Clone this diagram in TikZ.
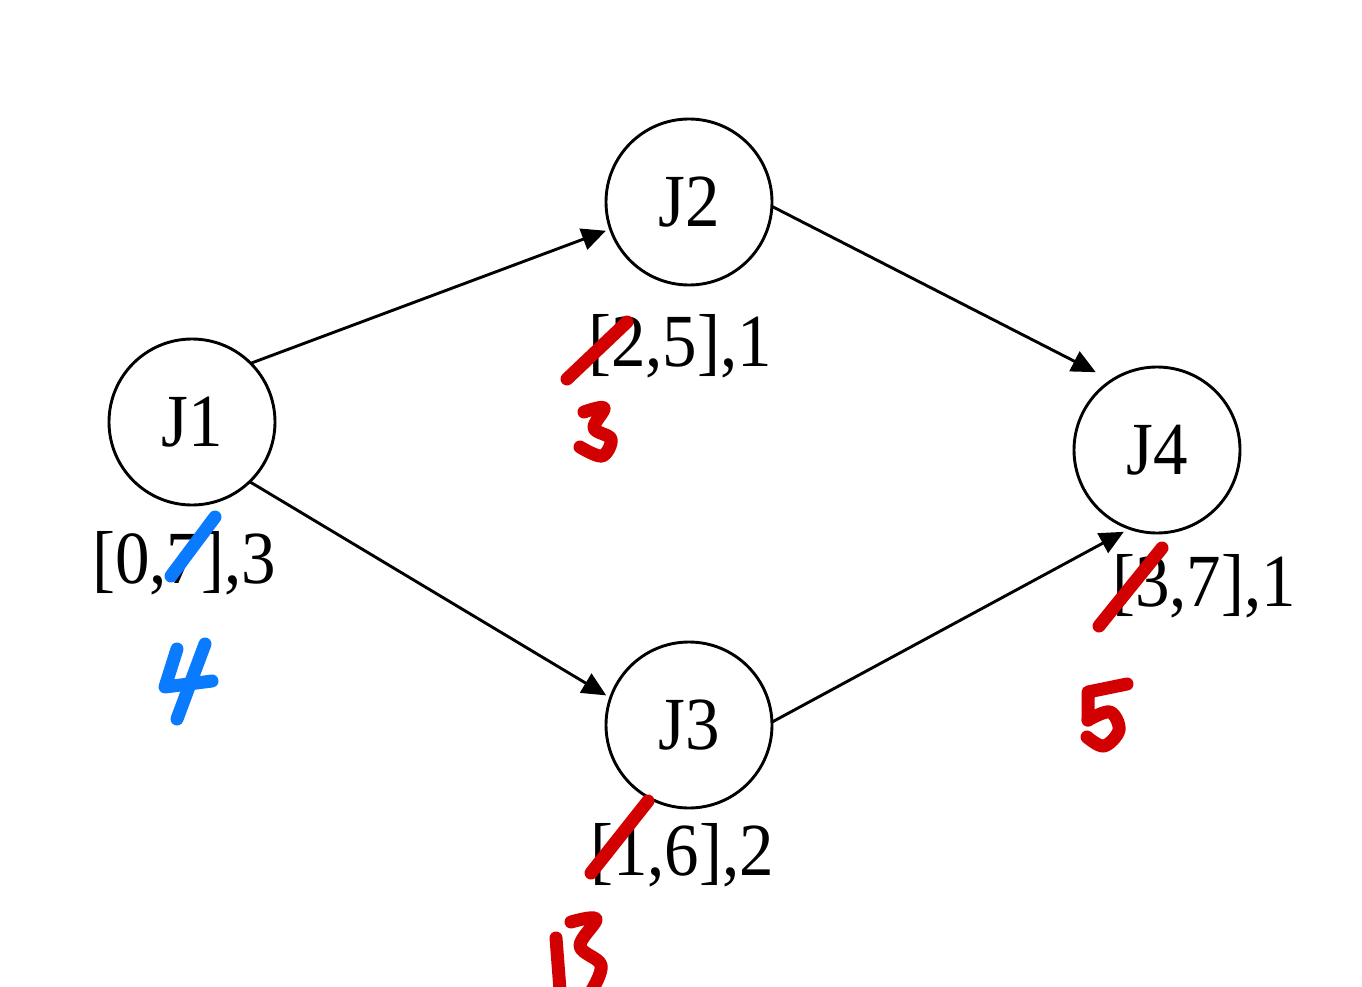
\documentclass[tikz,border=0pt]{standalone}
\usepackage{fontspec}
\setmainfont{Liberation Serif}[FakeStretch=0.92]
\usetikzlibrary{arrows.meta}
\definecolor{penred}{HTML}{D20000}
\definecolor{penblue}{HTML}{0A7BFF}
\begin{document}
\begin{tikzpicture}[x=1pt,y=-1pt,
  job/.style={circle,draw,line width=2.9pt,minimum size=166pt,inner sep=0pt,outer sep=0pt,
    font=\fontsize{75}{80}\selectfont,text height=49pt,text depth=0pt},
  lbl/.style={anchor=base,inner sep=0pt,font=\fontsize{75}{80}\selectfont},
  arr/.style={line width=2.9pt,-{Triangle[length=24pt,width=22pt]}},
  redpen/.style={penred,line width=13pt,line cap=round,line join=round},
  bluepen/.style={penblue,line width=13pt,line cap=round,line join=round}]
\clip (0,0) rectangle (1362,987);
\fill[white] (0,0) rectangle (1362,987);
% jobs
\node[job] (J1) at (192,422) {J1};
\node[job] (J2) at (689,202) {J2};
\node[job] (J3) at (689,725) {J3};
\node[job] (J4) at (1157,450) {J4};
% labels
\node[lbl] (L1) at (184,583) {[0,7],3};
\node[lbl] (L2) at (680,366) {[2,5],1};
\node[lbl] (L3) at (682,875) {[1,6],2};
\node[lbl] (L4) at (1204,606) {[3,7],1};
% arrows
\draw[arr,shorten >=5pt] (J1.45) -- (J2.199);
\draw[arr,shorten >=5pt] (J1.-46) -- (J3.161);
\draw[arr,shorten >=18pt] (J2.-3) -- (J4.123);
\draw[arr,shorten >=7pt] (J3.2) -- (J4.251);
% blue corrections
\draw[bluepen] (215,517) -- (171,576);
\draw[bluepen] (177,649) -- (165,687) -- (212,681);
\draw[bluepen] (205,644) -- (177,719);
% red corrections
\draw[redpen] (627,322) -- (567,379);
\draw[redpen] plot[smooth,tension=0.6] coordinates {(584,412) (604,408) (594,428) (611,439) (602,456) (580,447)};
\draw[redpen] (648,801) -- (591,873);
\draw[redpen] (556,938) -- (560,990);
\draw[redpen] plot[smooth,tension=0.6] coordinates {(571,922) (596,919) (580,946) (601,965) (592,990)};
\draw[redpen] (1162,548) -- (1099,626);
\draw[redpen] (1127,684) -- (1088,692) -- (1088,720);
\draw[redpen] plot[smooth,tension=0.6] coordinates {(1088,720) (1110,712) (1119,730) (1104,746) (1087,737)};
\end{tikzpicture}
\end{document}
